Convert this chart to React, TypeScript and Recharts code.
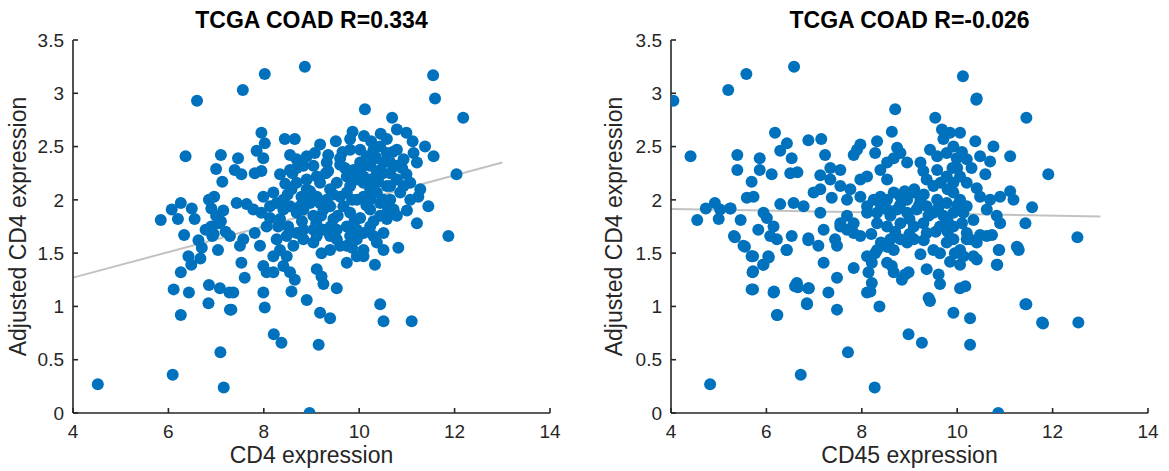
import React from "react";
import {
  ReferenceLine,
  Scatter,
  ScatterChart,
  XAxis,
  YAxis,
  Label,
} from "recharts";

// [CD4 expression, adjusted CD4 expression]
const cd4Points: [number, number][] = [
  [8.86, 3.25], [8.02, 3.18], [7.56, 3.03], [6.6, 2.93], [11.55, 3.17], [11.59, 2.95],
  [6.36, 2.41], [7.1, 2.42], [7.0, 2.29], [7.13, 2.17], [5.84, 1.81], [6.07, 1.91],
  [6.26, 1.97], [6.2, 1.82], [6.49, 1.92], [6.55, 1.82], [6.33, 1.67], [6.85, 2.0],
  [6.96, 2.03], [6.78, 1.72], [6.9, 1.92], [7.0, 1.85], [7.05, 1.78], [6.95, 1.68],
  [7.15, 1.9], [4.52, 0.27], [6.09, 0.36], [7.16, 0.24], [7.09, 0.57], [8.96, 0.0],
  [8.21, 0.74], [8.37, 0.66], [9.15, 0.64], [6.26, 0.92], [6.84, 1.03], [7.29, 0.97],
  [6.11, 1.16], [6.43, 1.13], [6.85, 1.2], [7.08, 1.17], [7.28, 1.13], [6.26, 1.32],
  [6.48, 1.39], [6.42, 1.47], [6.67, 1.45], [6.63, 1.62], [7.04, 1.53], [6.92, 1.66],
  [7.2, 1.7], [6.9, 1.75], [7.1, 1.8], [6.7, 1.55],
  [10.12, 2.85], [10.69, 2.77], [12.18, 2.77], [7.95, 2.63], [8.44, 2.57], [8.65, 2.57],
  [8.02, 2.53], [7.85, 2.46], [7.99, 2.39], [7.46, 2.39], [8.55, 2.42], [9.86, 2.64],
  [9.51, 2.55], [9.18, 2.52], [9.07, 2.44], [9.35, 2.42], [9.6, 2.39], [9.81, 2.47],
  [10.02, 2.35], [10.3, 2.47], [10.58, 2.57], [10.79, 2.66], [10.99, 2.63], [11.12, 2.55],
  [11.38, 2.5], [11.56, 2.41], [10.58, 2.44], [10.79, 2.47], [10.93, 2.38], [11.14, 2.44],
  [11.21, 2.35], [7.39, 2.28], [7.53, 2.24], [7.81, 2.25], [7.95, 2.27], [8.34, 2.24],
  [8.55, 2.28], [8.69, 2.3], [8.9, 2.19], [9.11, 2.22], [9.35, 2.27], [9.6, 2.33],
  [9.88, 2.28], [10.09, 2.22], [10.23, 2.32], [10.44, 2.28], [10.65, 2.25], [10.79, 2.32],
  [10.99, 2.24], [12.04, 2.24], [7.43, 1.97], [7.64, 1.96], [7.78, 1.91], [7.95, 1.88],
  [7.99, 2.03], [8.2, 2.07], [8.41, 2.0], [8.58, 2.1], [8.79, 2.03], [8.97, 2.08],
  [9.18, 2.16], [9.39, 2.1], [9.6, 2.03], [9.81, 2.13], [10.09, 2.16], [10.23, 2.1],
  [10.4, 2.17], [10.58, 2.13], [10.86, 2.07], [11.07, 2.0], [11.24, 2.03], [11.28, 2.1],
  [11.45, 1.94], [7.29, 1.66], [7.57, 1.63], [7.81, 1.69], [8.06, 1.75], [8.13, 1.83],
  [8.34, 1.82], [8.51, 1.75], [8.69, 1.88], [8.83, 1.91], [9.04, 1.85], [9.25, 1.91],
  [9.46, 1.82], [9.67, 1.94], [9.81, 1.88], [10.02, 1.83], [10.23, 1.91], [10.44, 1.97],
  [10.65, 2.0], [10.79, 1.85], [10.72, 1.91], [11.21, 1.78], [11.87, 1.66], [7.5, 1.57],
  [7.53, 1.41], [7.6, 1.27], [7.99, 1.38], [7.92, 1.57], [8.2, 1.47], [8.34, 1.53],
  [8.48, 1.47], [8.62, 1.57], [8.83, 1.63], [9.04, 1.6], [9.21, 1.5], [9.39, 1.53],
  [9.53, 1.63], [9.74, 1.57], [9.95, 1.63], [10.09, 1.53], [10.3, 1.66], [10.51, 1.69],
  [10.51, 1.53], [10.82, 1.55], [8.06, 1.32], [8.2, 1.32], [8.41, 1.38], [8.55, 1.32],
  [8.65, 1.25], [9.11, 1.35], [9.21, 1.28], [9.25, 1.21], [9.53, 1.17], [9.74, 1.41],
  [9.95, 1.47], [10.09, 1.47], [10.33, 1.39], [7.36, 1.13], [7.32, 0.97], [7.99, 1.13],
  [8.02, 0.99], [8.58, 1.14], [8.9, 1.06], [9.18, 0.94], [9.39, 0.89], [10.44, 1.02],
  [10.51, 0.86], [11.1, 0.86],
  [8.69, 2.16], [8.9, 2.1], [9.11, 2.03], [9.32, 2.0], [9.53, 2.16], [9.74, 2.22],
  [9.95, 2.19], [10.23, 2.19], [10.37, 2.07], [10.51, 2.0], [9.95, 2.0], [10.09, 2.03],
  [10.23, 2.0], [9.74, 2.07], [9.39, 1.94], [9.18, 1.97], [8.97, 1.97], [8.76, 1.94],
  [8.55, 1.94], [8.41, 1.91], [8.27, 1.97], [8.13, 1.94], [10.09, 2.32], [10.3, 2.38],
  [10.37, 2.25], [10.51, 2.35], [10.65, 2.13], [10.79, 2.19], [10.93, 2.13], [11.07, 2.16],
  [9.95, 1.72], [9.74, 1.75], [9.53, 1.72], [9.25, 1.72], [9.04, 1.72], [8.83, 1.72],
  [8.69, 1.69], [8.48, 1.66], [8.27, 1.63], [9.11, 1.66], [9.39, 1.66], [9.6, 1.57],
  [9.81, 1.66], [10.09, 1.69], [10.23, 1.75], [10.44, 1.85], [10.58, 1.82], [10.37, 1.6],
  [8.69, 2.38], [8.83, 2.32], [9.04, 2.32], [8.9, 2.41], [9.32, 2.35], [9.81, 2.57],
  [10.44, 2.5], [10.65, 2.35], [10.16, 2.41], [10.02, 2.47],
  [8.45, 2.15], [8.6, 2.25], [8.8, 1.8], [9.0, 2.05], [9.2, 1.85], [9.3, 2.25],
  [9.45, 2.05], [9.55, 1.85], [9.7, 2.3], [9.85, 2.0], [9.9, 1.8], [10.0, 2.25],
  [10.15, 1.95], [10.3, 1.8], [10.35, 2.4], [10.5, 2.25], [10.6, 1.9], [10.7, 2.45],
  [10.9, 2.3], [11.0, 1.9], [9.1, 1.78], [8.9, 1.98], [8.3, 1.75], [8.5, 2.05],
  [9.65, 2.45], [10.1, 2.6], [10.25, 2.55], [10.45, 2.62], [9.4, 1.75], [9.85, 1.55],
];

// [CD45 expression, adjusted CD4 expression]
const cd45Points: [number, number][] = [
  [4.05, 2.93], [6.58, 3.25], [5.58, 3.18], [5.2, 3.03], [10.12, 3.16], [10.41, 2.95],
  [4.41, 2.41], [4.55, 1.81], [4.73, 1.92], [4.92, 1.97], [5.0, 1.82], [5.25, 1.92],
  [4.82, 0.27], [5.34, 1.65], [5.55, 1.56], [5.72, 1.47], [5.72, 1.33], [5.72, 1.16],
  [5.93, 1.39], [6.05, 1.46], [6.16, 1.14], [6.42, 1.53], [6.62, 1.2], [6.66, 1.18],
  [6.88, 1.62], [6.89, 1.17], [6.85, 1.02], [6.23, 0.92], [6.72, 0.36], [8.27, 0.24],
  [7.71, 0.57], [10.86, 0.0], [8.98, 0.74], [9.26, 0.66], [10.27, 0.64], [12.54, 0.85],
  [11.8, 0.84], [11.45, 1.02], [10.88, 1.53], [10.84, 1.39], [11.27, 1.55], [12.52, 1.65],
  [8.7, 2.85], [10.4, 2.94], [9.54, 2.77], [11.45, 2.77], [8.63, 2.64], [6.18, 2.63],
  [6.88, 2.56], [7.15, 2.57], [6.43, 2.53], [6.29, 2.46], [5.39, 2.42], [5.86, 2.39],
  [6.53, 2.39], [7.23, 2.42], [5.39, 2.28], [5.86, 2.28], [6.11, 2.24], [6.5, 2.25],
  [6.65, 2.26], [5.69, 2.17], [7.13, 2.23], [7.34, 2.3], [7.55, 2.28], [7.9, 2.47],
  [7.97, 2.52], [7.83, 2.42], [8.32, 2.55], [8.28, 2.44], [8.74, 2.49], [8.81, 2.44],
  [8.53, 2.35], [8.67, 2.39], [8.95, 2.35], [9.23, 2.35], [9.29, 2.27], [9.36, 2.19],
  [9.43, 2.47], [9.68, 2.66], [9.85, 2.63], [10.06, 2.63], [9.71, 2.57], [9.92, 2.5],
  [10.38, 2.55], [10.76, 2.5], [11.11, 2.41], [9.58, 2.41], [9.78, 2.44], [9.99, 2.39],
  [10.2, 2.38], [10.48, 2.41], [10.69, 2.36], [10.59, 2.24], [9.58, 2.28], [9.78, 2.22],
  [9.65, 2.16], [10.06, 2.22], [10.2, 2.16], [10.41, 2.11], [10.48, 2.03], [10.69, 2.0],
  [10.9, 2.03], [11.11, 2.08], [11.18, 2.0], [10.62, 1.91], [10.83, 1.85], [10.9, 1.78],
  [11.57, 1.93], [11.43, 1.78], [11.25, 1.56], [11.29, 1.53], [10.87, 1.53], [10.83, 1.39],
  [10.62, 1.66], [10.73, 1.67], [10.48, 1.67], [10.2, 1.69], [10.27, 1.63], [10.06, 1.53],
  [10.13, 1.47], [10.06, 1.39], [10.34, 1.47], [10.41, 1.44], [10.06, 1.17], [10.17, 1.19],
  [9.92, 0.94], [10.27, 0.89], [11.78, 0.85], [11.43, 1.02], [11.91, 2.24], [8.98, 1.32],
  [8.91, 1.3], [8.84, 1.25], [9.23, 1.49], [9.36, 1.35], [9.61, 1.3], [9.64, 1.21],
  [9.4, 1.08], [9.43, 1.05], [9.5, 1.53], [9.64, 1.5], [9.36, 1.69], [9.64, 1.75],
  [9.92, 1.75], [9.09, 1.63], [8.95, 1.6], [8.67, 1.53], [8.56, 1.56], [8.32, 1.53],
  [8.11, 1.47], [8.28, 1.5], [8.21, 1.41], [8.14, 1.32], [8.21, 1.22], [8.18, 1.14],
  [8.11, 1.13], [8.37, 1.0], [8.63, 1.38], [8.67, 1.32], [8.53, 1.41], [7.83, 1.36],
  [7.48, 1.27], [7.2, 1.41], [7.48, 0.97], [7.3, 1.13], [6.88, 1.17], [6.85, 1.03],
  [6.64, 1.22], [6.6, 1.19], [6.22, 0.92], [6.15, 1.13], [5.69, 1.16], [5.71, 1.32],
  [5.94, 1.39], [6.04, 1.47], [5.69, 1.47], [5.52, 1.57], [5.32, 1.66], [5.83, 1.72],
  [6.08, 1.66], [6.15, 1.75], [6.22, 1.63], [6.43, 1.53], [6.53, 1.66], [6.88, 1.64],
  [7.09, 1.57], [7.2, 1.72], [7.44, 1.63], [7.48, 1.57], [7.55, 1.78], [7.69, 1.72],
  [7.83, 1.69], [7.97, 1.66], [5.46, 1.81], [5.24, 1.92], [5.03, 1.91], [5.59, 2.02],
  [5.73, 2.03], [5.94, 1.88], [6.01, 1.83], [6.29, 1.96], [6.57, 1.97], [6.78, 1.94],
  [6.99, 2.07], [7.13, 2.1], [7.13, 1.88], [7.37, 2.02], [7.69, 2.0], [7.97, 2.03],
  [7.34, 2.19], [7.55, 2.13], [7.76, 2.1], [7.97, 2.19], [8.11, 2.22], [8.39, 2.28],
  [8.53, 2.19], [8.11, 1.94], [8.25, 2.0], [8.39, 2.03], [8.53, 2.0], [8.67, 2.07],
  [8.81, 2.03], [8.95, 2.0], [9.09, 2.07], [9.23, 2.0], [9.36, 1.94], [8.11, 1.88],
  [8.32, 1.88], [8.53, 1.91], [8.74, 1.91], [8.95, 1.88], [9.15, 1.91], [7.69, 1.85],
  [7.55, 1.75], [7.83, 1.78], [8.32, 1.78], [8.53, 1.75], [8.81, 1.78], [9.09, 1.75],
  [9.29, 1.78], [9.58, 2.0], [9.78, 1.97], [9.92, 2.07], [10.06, 2.0], [10.2, 1.94],
  [9.5, 1.88], [9.71, 1.85], [9.92, 1.88], [10.13, 1.88], [10.34, 1.81], [9.5, 2.13],
  [9.92, 2.16], [10.2, 1.63], [10.41, 1.6], [9.78, 1.6], [9.92, 1.63], [8.53, 1.56],
  [8.6, 1.63], [8.81, 1.63],
  [8.4, 1.95], [8.6, 1.85], [8.8, 1.95], [9.0, 1.82], [9.2, 1.95], [9.4, 1.85],
  [9.6, 1.92], [9.8, 1.8], [10.0, 1.95], [8.7, 1.7], [9.0, 1.68], [9.3, 1.62],
  [9.55, 1.7], [9.8, 1.7], [10.1, 1.78], [8.9, 2.08], [9.1, 2.1], [9.3, 2.05],
  [9.8, 2.1], [10.0, 2.3], [10.1, 2.45], [9.9, 2.3], [8.2, 1.68], [8.4, 1.6],
  [10.3, 2.3], [9.95, 1.5], [9.85, 1.42],
];

// least-squares lines, endpoints
const cd4Fit = [
  { x: 4, y: 1.27 },
  { x: 13, y: 2.35 },
];
const cd45Fit = [
  { x: 4, y: 1.915 },
  { x: 13, y: 1.845 },
];

const xTicks = [4, 6, 8, 10, 12, 14];
const yTicks = [0, 0.5, 1, 1.5, 2, 2.5, 3, 3.5];

const FONT = "'Liberation Sans', Arial, Helvetica, sans-serif";
const AXIS_COLOR = "#262626";
const DOT_COLOR = "#0072BD";
const PLOT_W = 477;
const HEIGHT = 471;

type PanelProps = {
  title: string;
  xLabel: string;
  points: [number, number][];
  fit: { x: number; y: number }[];
  left: number;
  width: number;
  yAxisWidth: number;
  yLabelOffset: number;
};

const Dot = (props: any) => (
  <circle cx={props.cx} cy={props.cy} r={6} fill={DOT_COLOR} />
);

function Panel({ title, xLabel, points, fit, left, width, yAxisWidth, yLabelOffset }: PanelProps) {
  const data = points.map(([x, y]) => ({ x, y }));
  const rightMargin = width - yAxisWidth - PLOT_W;
  return (
    <div style={{ position: "absolute", left, top: 0, width, height: HEIGHT }}>
      <div
        style={{
          position: "absolute",
          left: yAxisWidth,
          width: PLOT_W,
          top: 9,
          textAlign: "center",
          fontFamily: FONT,
          fontWeight: "bold",
          fontSize: 23,
          lineHeight: "23px",
          color: "#000",
        }}
      >
        {title}
      </div>
      <ScatterChart
        width={width}
        height={HEIGHT}
        margin={{ top: 40, right: rightMargin, bottom: 0, left: 0 }}
      >
        <XAxis
          type="number"
          dataKey="x"
          domain={[4, 14]}
          ticks={xTicks}
          height={58}
          tickSize={-5}
          tickMargin={17}
          axisLine={{ stroke: AXIS_COLOR, strokeWidth: 1.6 }}
          tickLine={{ stroke: AXIS_COLOR, strokeWidth: 1.6 }}
          tick={{ fill: AXIS_COLOR, fontSize: 19, fontFamily: FONT }}
          allowDataOverflow
        >
          <Label
            value={xLabel}
            position="insideBottom"
            offset={8}
            style={{ fill: AXIS_COLOR, fontSize: 23, fontFamily: FONT }}
          />
        </XAxis>
        <YAxis
          type="number"
          dataKey="y"
          domain={[0, 3.5]}
          ticks={yTicks}
          width={yAxisWidth}
          tickSize={-5}
          tickMargin={14}
          axisLine={{ stroke: AXIS_COLOR, strokeWidth: 1.6 }}
          tickLine={{ stroke: AXIS_COLOR, strokeWidth: 1.6 }}
          tick={{ fill: AXIS_COLOR, fontSize: 19, fontFamily: FONT }}
          allowDataOverflow
        >
          <Label
            value="Adjusted CD4 expression"
            position="insideLeft"
            angle={-90}
            offset={yLabelOffset}
            style={{ fill: AXIS_COLOR, fontSize: 23, fontFamily: FONT, textAnchor: "middle" }}
          />
        </YAxis>
        <Scatter data={data} shape={Dot} isAnimationActive={false} />
        <ReferenceLine
          segment={fit}
          stroke="#c2c2c2"
          strokeWidth={2}
          ifOverflow="visible"
        />
      </ScatterChart>
    </div>
  );
}

export default function App() {
  return (
    <div
      style={{
        position: "absolute",
        left: 0,
        top: 0,
        width: 1169,
        height: HEIGHT,
        background: "#fff",
      }}
    >
      <Panel
        title="TCGA COAD R=0.334"
        xLabel="CD4 expression"
        points={cd4Points}
        fit={cd4Fit}
        left={0}
        width={585}
        yAxisWidth={73}
        yLabelOffset={18}
      />
      <Panel
        title="TCGA COAD R=-0.026"
        xLabel="CD45 expression"
        points={cd45Points}
        fit={cd45Fit}
        left={585}
        width={584}
        yAxisWidth={86}
        yLabelOffset={29}
      />
    </div>
  );
}
